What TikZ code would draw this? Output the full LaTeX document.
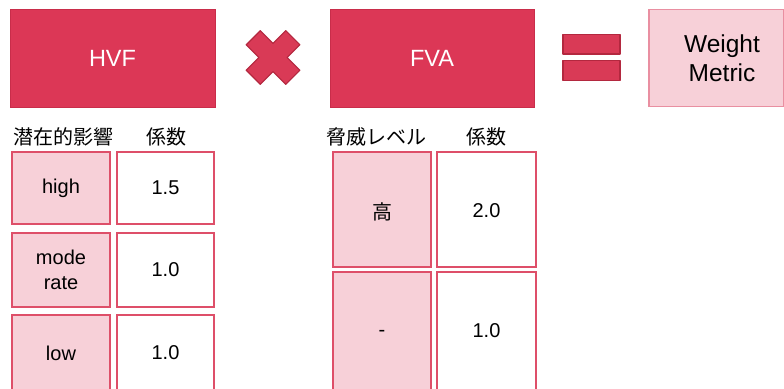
\documentclass[tikz,border=0pt]{standalone}
\usepackage{fontspec}
\setmainfont{Liberation Sans}
\newfontfamily\jpfont{Noto Sans CJK JP}
\definecolor{darkred}{HTML}{DC3756}
\definecolor{darkredline}{HTML}{C92D4A}
\definecolor{symfill}{HTML}{D93A56}
\definecolor{symline}{HTML}{B3283F}
\definecolor{pinkfill}{HTML}{F7D0D8}
\definecolor{pinkline}{HTML}{DE4F69}
\definecolor{lightline}{HTML}{E98FA1}
\tikzset{
  titlebox/.style={draw=darkredline, fill=darkred, line width=0.8pt},
  titletext/.style={text=white, font=\fontsize{23.5}{26}\selectfont},
  keybox/.style={draw=pinkline, fill=pinkfill, line width=1.2pt},
  valbox/.style={draw=pinkline, fill=white, line width=1.2pt},
  celltext/.style={font=\fontsize{20}{25}\selectfont, align=center},
  header/.style={font=\jpfont\fontsize{20}{22}\selectfont, anchor=center},
  sym/.style={fill=symfill, draw=symline, line width=1.2pt, line join=round}
}
\begin{document}
\begin{tikzpicture}[x=1pt,y=-1pt]
\useasboundingbox (0,0) rectangle (784,388);
% top row
\path[titlebox] (10,9) rectangle (215,107);
\node[titletext] (hvf) at (112.5,58) {HVF};
\path[titlebox] (330,9) rectangle (534,107);
\node[titletext] (fva) at (432,58) {FVA};
% multiplication sign
\begin{scope}[shift={(273,57.5)}, rotate=45]
\draw[sym] (-10,-28) -- (10,-28) -- (10,-10) -- (28,-10) -- (28,10) -- (10,10) -- (10,28) -- (-10,28) -- (-10,10) -- (-28,10) -- (-28,-10) -- (-10,-10) -- cycle;
\end{scope}
% equals sign
\draw[sym] (563,34.5) rectangle (620,54);
\draw[sym] (563,60.5) rectangle (620,80.5);
% weight metric
\path[draw=lightline, fill=pinkfill, line width=1.2pt] (649,9.5) rectangle (783.4,106.5);
\node[align=center, font=\fontsize{24.5}{29}\selectfont] (wm) at (722,58) {Weight\\Metric};
% left table
\node[header] (h1) at (63,137) {潜在的影響};
\node[header] (h2) at (166,137) {係数};
\path[keybox] (12,152) rectangle (110,224);
\node[celltext] (k1) at (61,188) {high};
\path[valbox] (117,152) rectangle (214,224);
\node[celltext] (v1) at (165.5,188) {1.5};
\path[keybox] (12,233) rectangle (110,307);
\node[celltext] (k2) at (61,270) {mode\\rate};
\path[valbox] (117,233) rectangle (214,307);
\node[celltext] (v2) at (165.5,270) {1.0};
\path[keybox] (12,315) rectangle (110,392);
\node[celltext] (k3) at (61,353) {low};
\path[valbox] (117,315) rectangle (214,392);
\node[celltext] (v3) at (165.5,353) {1.0};
% right table
\node[header] (h3) at (376,137) {脅威レベル};
\node[header] (h4) at (486,137) {係数};
\path[keybox] (333,152) rectangle (431,267);
\node[header] (k4) at (382,212) {高};
\path[valbox] (437,152) rectangle (536,267);
\node[celltext] (v4) at (486.5,211) {2.0};
\path[keybox] (333,272) rectangle (431,392);
\node[celltext] (k5) at (382,333) {-};
\path[valbox] (437,272) rectangle (536,392);
\node[celltext] (v5) at (486.5,331) {1.0};
\end{tikzpicture}
\end{document}
